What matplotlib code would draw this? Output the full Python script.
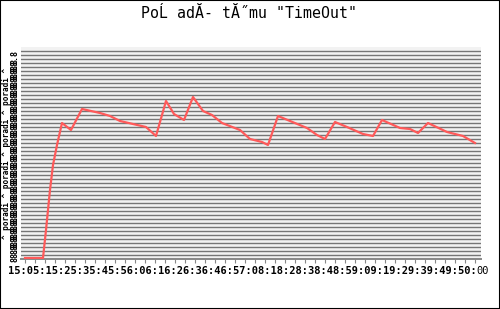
import numpy as np
import matplotlib
matplotlib.use("Agg")
import matplotlib.pyplot as plt
from matplotlib.patches import Rectangle

title = 'PoĹ adĂ- tĂ˝mu "TimeOut"'
xlabels_text = "15:05:15:25:35:45:56:06:16:26:36:46:57:08:18:28:38:48:59:09:19:29:39:49:50:"
xlabels_tail = "00"

# minutes from start, rank-ish value
t = [0, 1.8, 2.1, 2.5, 2.8, 3.2, 3.7, 4.6, 5.7, 7.5, 8.5, 9.5, 10.8, 12.1, 13.1,
     14.1, 14.9, 15.9, 16.8, 17.8, 18.7, 19.7, 21.5, 22.5, 23.7, 24.3, 25.3, 26.5,
     28.2, 29.2, 30.0, 31.0, 32.2, 33.8, 34.8, 35.7, 37.5, 38.5, 39.3, 40.3, 42.2,
     43.8, 45.0]
v = [1, 1, 29, 69, 94, 114, 136, 129, 150, 146, 143, 138, 135, 132, 123,
     158, 145, 139, 162, 148, 144, 136, 129, 120, 117, 114, 143, 138,
     131, 124, 120, 137, 132, 125, 123, 139, 131, 130, 126, 136, 127,
     123, 116]
grid_levels = np.arange(4, 212, 4)
ytick_levels = np.arange(14, 212, 8)
xticks = np.arange(0, 46, 1)

fig = plt.figure(figsize=(5, 3.09), dpi=100)
ax = fig.add_axes([21 / 500, 1 - 259 / 309, 460 / 500, 212 / 309])
ax.set_xlim(-0.4, 45.6)
ax.set_ylim(0, 212)
ax.set_facecolor("#f2f2f2")

for g in grid_levels:
    ax.axhline(g, color="#767676", lw=1.0, zorder=1)

ax.plot(t, v, color="#ff5a5a", lw=1.6, zorder=3)

for s in ["top", "right", "left"]:
    ax.spines[s].set_visible(False)
ax.spines["bottom"].set_color("#888888")
ax.spines["bottom"].set_linewidth(1.4)
ax.set_xticks(xticks)
ax.set_xticklabels([])
ax.tick_params(axis="x", direction="out", length=3, width=0.8, color="#888888")

ax.set_yticks(ytick_levels)
ax.set_yticklabels(["88.8"] * len(ytick_levels), rotation=90,
                   family="DejaVu Sans Mono", fontsize=6, fontweight="bold")
ax.tick_params(axis="y", length=0, pad=1)
ax.set_ylabel("^ poradi ^ poradi ^ poradi ^ poradi ^", family="DejaVu Sans Mono",
              fontsize=5.5, fontweight="bold", labelpad=0)

fig.text(0.5 - 1 / 500, 1 - 13 / 309, title, ha="center", va="center",
         family="DejaVu Sans Mono", fontsize=10.7)
fig.text(8 / 500, 1 - 271 / 309, xlabels_text, ha="left", va="center",
         family="DejaVu Sans Mono", fontsize=7.45, fontweight="bold")
fig.text(476 / 500, 1 - 271 / 309, xlabels_tail, ha="left", va="center",
         family="DejaVu Sans Mono", fontsize=7.45)

fig.patches.append(Rectangle((0, 0), 1, 1, transform=fig.transFigure,
                             fill=False, edgecolor="black", lw=1.5))

fig.savefig("out.png", dpi=100)
